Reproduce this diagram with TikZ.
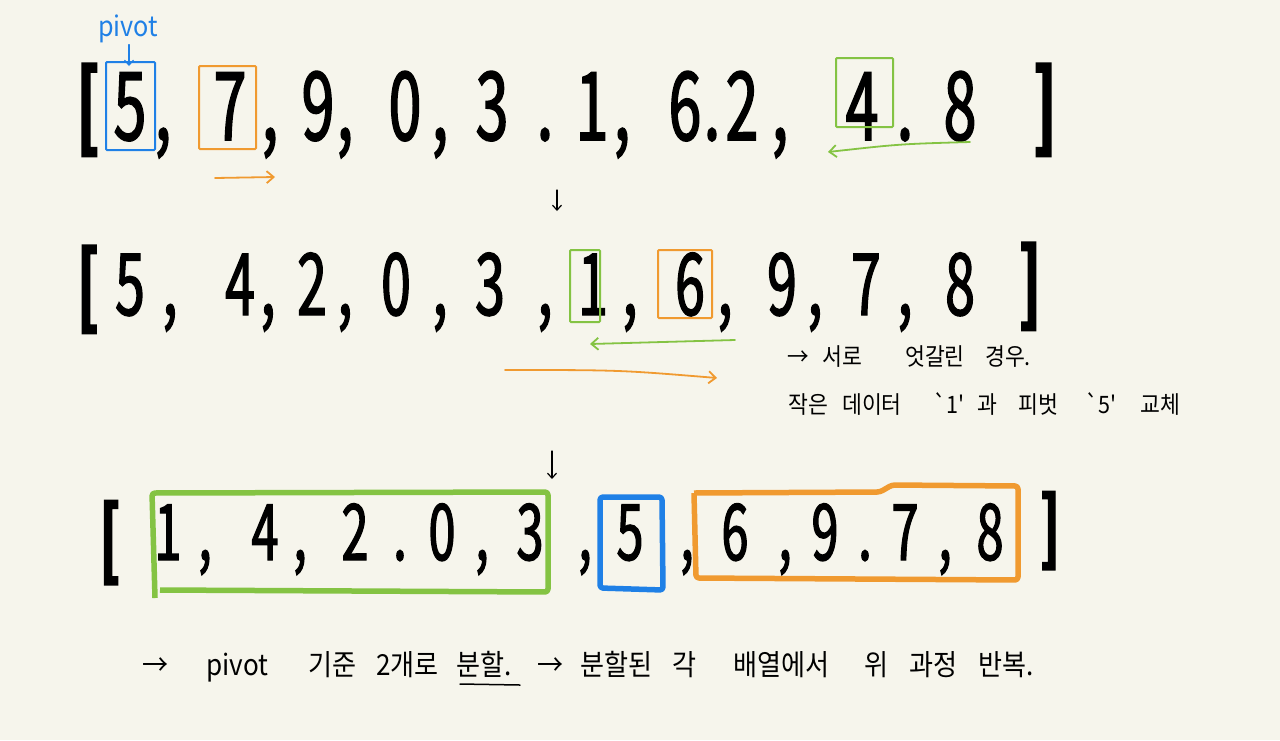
\documentclass[tikz,border=0pt]{standalone}
\usepackage{fontspec}
\setmainfont{Noto Sans CJK KR}
\newfontfamily\hand[FakeStretch=0.62,FakeBold=1.6]{Noto Sans CJK KR}
\newfontfamily\kr[FakeStretch=0.9]{Noto Sans CJK KR}
\usetikzlibrary{arrows.meta}
\definecolor{bg}{HTML}{F6F5EC}
\definecolor{pblue}{HTML}{1F80E6}
\definecolor{porange}{HTML}{F09A30}
\definecolor{pgreen}{HTML}{84C343}
\tikzset{
  dgA/.style={font=\hand\fontsize{95}{95}\selectfont, inner sep=0pt, anchor=base},
  dgB/.style={font=\hand\fontsize{86}{86}\selectfont, inner sep=0pt, anchor=base},
  dgC/.style={font=\hand\fontsize{78}{78}\selectfont, inner sep=0pt, anchor=base},
  brk/.style={inner sep=0pt, anchor=base},
  note/.style={font=\kr\fontsize{24}{24}\selectfont, inner sep=0pt, anchor=base west},
  bnote/.style={font=\kr\fontsize{29}{29}\selectfont, inner sep=0pt, anchor=base west},
  thinbox/.style={line width=2pt, rounded corners=1pt},
  thickbox/.style={line width=5.5pt, rounded corners=3pt, line join=round},
  hand arrow/.style={line width=1.8pt, line cap=round, -{Straight Barb[length=7pt,width=12pt,line width=1.8pt]}},
  down arrow/.style={line width=1.2pt, line cap=round, -{Straight Barb[length=5pt,width=9pt,line width=1.2pt]}}
}
\begin{document}
\begin{tikzpicture}[x=1pt,y=-1pt]
\fill[bg] (0,0) rectangle (1280,740);
\useasboundingbox (0,0) rectangle (1280,740);

% ---------- Row 1 ----------
\node[brk, font=\hand\bfseries\fontsize{95}{95}\selectfont] (r1open) at (88,140) {[};
\foreach \x/\c [count=\i] in {130/5, 163/{,}, 230/7, 270/{,}, 318/9, 345/{,}, 405/0, 440/{,}, 492/3, 545/., 592/1, 622/{,}, 685/6, 712/., 742/2, 780/{,}, 862/4, 905/., 960/8}
  \node[dgA] (r1-\i) at (\x,140) {\c};
\node[brk, font=\hand\bfseries\fontsize{95}{95}\selectfont] (r1close) at (1045,140) {]};

\draw[pblue, thinbox] (106,62) rectangle (155,150);
\draw[porange, thinbox] (199,66) rectangle (256,149);
\draw[pgreen, thinbox] (836,58) rectangle (893,127);

\node[font=\kr\fontsize{28}{28}\selectfont, text=pblue, inner sep=0pt, anchor=base] (pivot) at (128,36) {pivot};
\coordinate (pivotend) at (129,66);
\draw[pblue, down arrow] (pivot.south) ++(1,2) coordinate (pivotstart) -- (pivotend);

\coordinate (o1s) at (215,178); \coordinate (o1e) at (275,177);
\draw[porange, hand arrow] (o1s) -- (o1e);
\coordinate (g1s) at (970,142); \coordinate (g1e) at (828,152);
\draw[pgreen, hand arrow] (g1s) .. controls (900,144) .. (g1e);

\coordinate (d1s) at (557,190); \coordinate (d1e) at (557,211);
\draw[down arrow] (d1s) -- (d1e);

% ---------- Row 2 ----------
\node[brk, font=\hand\bfseries\fontsize{90}{90}\selectfont] (r2open) at (88,318) {[};
\foreach \x/\c [count=\i] in {130/5, 170/{,}, 240/4, 268/{,}, 312/2, 345/{,}, 396/0, 440/{,}, 490/3, 545/{,}, 593/1, 630/{,}, 690/6, 725/{,}, 782/9, 815/{,}, 866/7, 905/{,}, 960/8}
  \node[dgB] (r2-\i) at (\x,315) {\c};
\node[brk, font=\hand\bfseries\fontsize{90}{90}\selectfont] (r2close) at (1030,315) {]};

\draw[pgreen, thinbox] (570,250) rectangle (600,322);
\draw[porange, thinbox] (658,250) rectangle (712,318);

\coordinate (g2s) at (735,340); \coordinate (g2e) at (590,344);
\draw[pgreen, hand arrow] (g2s) -- (g2e);
\coordinate (o2s) at (505,370); \coordinate (o2e) at (717,378);
\draw[porange, hand arrow] (o2s) .. controls (620,370) .. (o2e);

\node[note] (n1a) at (787,365) {→};
\node[note] (n1b) at (822,365) {서로};
\node[note] (n1c) at (905,365) {엇갈린};
\node[note] (n1d) at (985,365) {경우.};
\node[note] (n2a) at (788,413) {작은};
\node[note] (n2b) at (842,413) {데이터};
\node[note] (n2c) at (933,413) {`1'};
\node[note] (n2d) at (977,413) {과};
\node[note] (n2e) at (1018,413) {피벗};
\node[note] (n2f) at (1085,413) {`5'};
\node[note] (n2g) at (1140,413) {교체};

\coordinate (d2s) at (552,451); \coordinate (d2e) at (552,479);
\draw[down arrow] (d2s) -- (d2e);

% ---------- Row 3 ----------
\node[brk, font=\hand\bfseries\fontsize{86}{86}\selectfont] (r3open) at (110,570) {[};
\foreach \x/\c [count=\i] in {168/1, 205/{,}, 265/4, 300/{,}, 355/2, 400/., 442/0, 482/{,}, 530/3, 585/{,}, 630/5, 687/{,}, 735/6, 785/{,}, 825/9, 865/., 905/7, 945/{,}, 990/8}
  \node[dgC] (r3-\i) at (\x,560) {\c};
\node[brk, font=\hand\bfseries\fontsize{80}{80}\selectfont] (r3close) at (1050,556) {]};

\draw[pgreen, thickbox] (155,598) -- (152,493) -- (548,492) -- (548,592) -- (160,590);
\draw[pblue, thickbox] (600,497) -- (662,497) -- (663,590) -- (600,588) -- cycle;
\draw[porange, thickbox] (694,493) -- (880,492) -- (892,485) -- (1018,486) -- (1018,580) -- (696,578) -- (694,493);

% ---------- Bottom text ----------
\foreach \x/\t [count=\i] in {142/→, 206/pivot, 308/기준, 376/2개로, 456/분할., 537/→, 580/분할된, 672/각, 733/배열에서, 864/위, 909/과정, 978/반복.}
  \node[bnote] (b\i) at (\x,675) {\t};
\coordinate (ul1) at (460,684); \coordinate (ul2) at (520,685);
\draw[line width=1.5pt, line cap=round] (ul1) -- (ul2);
\end{tikzpicture}
\end{document}
